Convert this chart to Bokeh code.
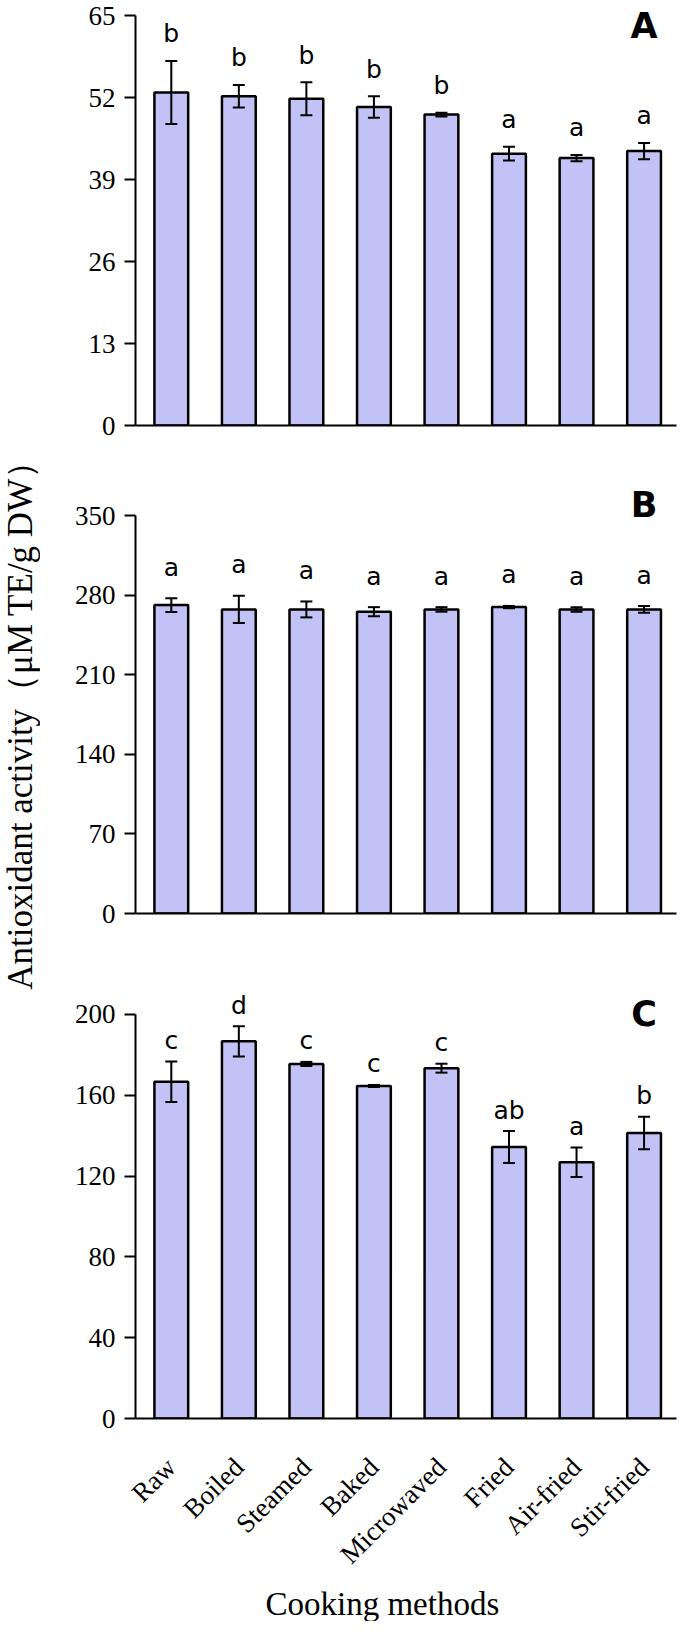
import math
from bokeh.plotting import figure
from bokeh.layouts import column, row
from bokeh.models import (ColumnDataSource, Range1d, FixedTicker, Whisker, TeeHead,
                          LabelSet, Label, Title)
from bokeh.core.properties import value
from bokeh.embed import file_html
from bokeh.resources import INLINE

# ---------------- data ----------------
methods = ["Raw", "Boiled", "Steamed", "Baked", "Microwaved", "Fried", "Air-fried", "Stir-fried"]

values_a = [52.8, 52.2, 51.8, 50.5, 49.3, 43.1, 42.4, 43.5]
errors_a = [5.0, 1.8, 2.6, 1.7, 0.3, 1.1, 0.5, 1.3]
letters_a = ["b", "b", "b", "b", "b", "a", "a", "a"]
ticks_a = [0, 13, 26, 39, 52, 65]

values_b = [271.2, 267.4, 267.4, 265.4, 267.4, 269.5, 267.4, 267.4]
errors_b = [6.0, 12.0, 7.0, 4.0, 2.0, 1.0, 2.0, 3.0]
letters_b = ["a", "a", "a", "a", "a", "a", "a", "a"]
ticks_b = [0, 70, 140, 210, 280, 350]

values_c = [166.7, 186.7, 175.5, 164.6, 173.4, 134.4, 126.8, 141.3]
errors_c = [10.0, 7.5, 1.0, 0.5, 2.2, 7.9, 7.3, 8.0]
letters_c = ["c", "d", "c", "c", "c", "ab", "a", "b"]
ticks_c = [0, 40, 80, 120, 160, 200]

panel_names = ["A", "B", "C"]
y_label = "Antioxidant activity\uff08\u03bcM TE/g DW\uff09"
x_label = "Cooking methods"

# ---------------- style ----------------
YLAB_W = 40
W = 641
LEFT = 95
RIGHT = 5
TOTAL_H = 1621
BAR_FILL = "#C3C2F6"
SERIF = "Liberation Serif"
SANS = "DejaVu Sans"
TICK_FS = "27px"


def panel(values, errors, letters, ticks, name, height, bottom, tick_px,
          letter_gap, name_offset, show_x):
    ymax = ticks[-1]
    frame_px = height - bottom
    y_end = ymax * frame_px / tick_px
    p = figure(width=W, height=height, output_backend="svg", toolbar_location=None,
               x_range=Range1d(-0.53, 7.48), y_range=Range1d(0, y_end),
               min_border_left=LEFT, min_border_right=RIGHT,
               min_border_top=0, min_border_bottom=bottom)
    p.outline_line_color = None
    p.grid.visible = False
    p.background_fill_color = "white"
    p.border_fill_color = "white"

    idx = list(range(len(methods)))
    src = ColumnDataSource(dict(
        x=idx, top=values,
        upper=[v + e for v, e in zip(values, errors)],
        lower=[v - e for v, e in zip(values, errors)],
        text=letters,
    ))
    p.vbar(x="x", top="top", bottom=0, width=0.5, source=src,
           fill_color=BAR_FILL, line_color="black", line_width=2.5)
    p.add_layout(Whisker(base="x", upper="upper", lower="lower", source=src,
                         level="overlay",
                         line_color="black", line_width=2,
                         upper_head=TeeHead(size=12, line_width=2, line_color="black"),
                         lower_head=TeeHead(size=12, line_width=2, line_color="black")))
    p.add_layout(LabelSet(x="x", y="upper", text="text", source=src,
                          text_align="center", text_baseline="middle",
                          y_offset=letter_gap,
                          text_font=value(SANS), text_font_size="25px",
                          text_color="black"))
    p.add_layout(Label(x=idx[-1], y=ymax, text=name, text_align="center",
                       text_baseline="middle", y_offset=name_offset,
                       text_font=SANS, text_font_size="35px",
                       text_font_style="bold", text_color="black"))

    # y axis
    ya = p.yaxis[0]
    ya.ticker = FixedTicker(ticks=ticks)
    ya.bounds = (0, ymax)
    ya.minor_tick_line_color = None
    ya.major_tick_in = 0
    ya.major_tick_out = 11
    ya.major_tick_line_width = 2
    ya.axis_line_width = 2
    ya.axis_line_color = "black"
    ya.major_tick_line_color = "black"
    ya.major_label_text_font = SERIF
    ya.major_label_text_font_size = TICK_FS
    ya.major_label_text_color = "black"
    ya.major_label_standoff = 9

    # x axis
    xa = p.xaxis[0]
    xa.minor_tick_line_color = None
    xa.major_tick_line_color = None
    xa.major_tick_out = 0
    xa.major_tick_in = 0
    xa.axis_line_width = 2
    xa.axis_line_color = "black"
    if show_x:
        xa.ticker = FixedTicker(ticks=idx)
        xa.major_label_overrides = {i: m for i, m in enumerate(methods)}
        xa.major_label_orientation = math.pi / 4
        xa.major_label_text_font = SERIF
        xa.major_label_text_font_size = "27px"
        xa.major_label_text_color = "black"
        xa.major_label_standoff = 44
        p.add_layout(Title(text=x_label, align="left", offset=130,
                           text_font=SERIF, text_font_size="33px",
                           text_font_style="normal", text_color="black",
                           standoff=0), "below")
    else:
        xa.ticker = FixedTicker(ticks=[])
        xa.major_label_standoff = 0
    return p


pa = panel(values_a, errors_a, letters_a, ticks_a, panel_names[0],
           440, 15, 410, 27, -10, False)
pb = panel(values_b, errors_b, letters_b, ticks_b, panel_names[1],
           550, 77, 398, 31, 11, False)
pc = panel(values_c, errors_c, letters_c, ticks_c, panel_names[2],
           631, 202, 405, 21, 0, True)

# shared y-axis title in its own narrow strip
pl = figure(width=YLAB_W, height=TOTAL_H, output_backend="svg", toolbar_location=None,
            x_range=Range1d(0, YLAB_W), y_range=Range1d(TOTAL_H, 0),
            x_axis_location=None, y_axis_location=None,
            min_border=0, min_border_left=0, min_border_right=0,
            min_border_top=0, min_border_bottom=0)
pl.outline_line_color = None
pl.grid.visible = False
pl.add_layout(Label(x=20, y=716, text=y_label, angle=math.pi / 2,
                    text_align="center", text_baseline="middle",
                    text_font=SERIF, text_font_size="35px",
                    text_font_style="normal", text_color="black"))

p = row(pl, column(pa, pb, pc, spacing=0), spacing=0)

open("out.html", "w").write(file_html(p, INLINE))
